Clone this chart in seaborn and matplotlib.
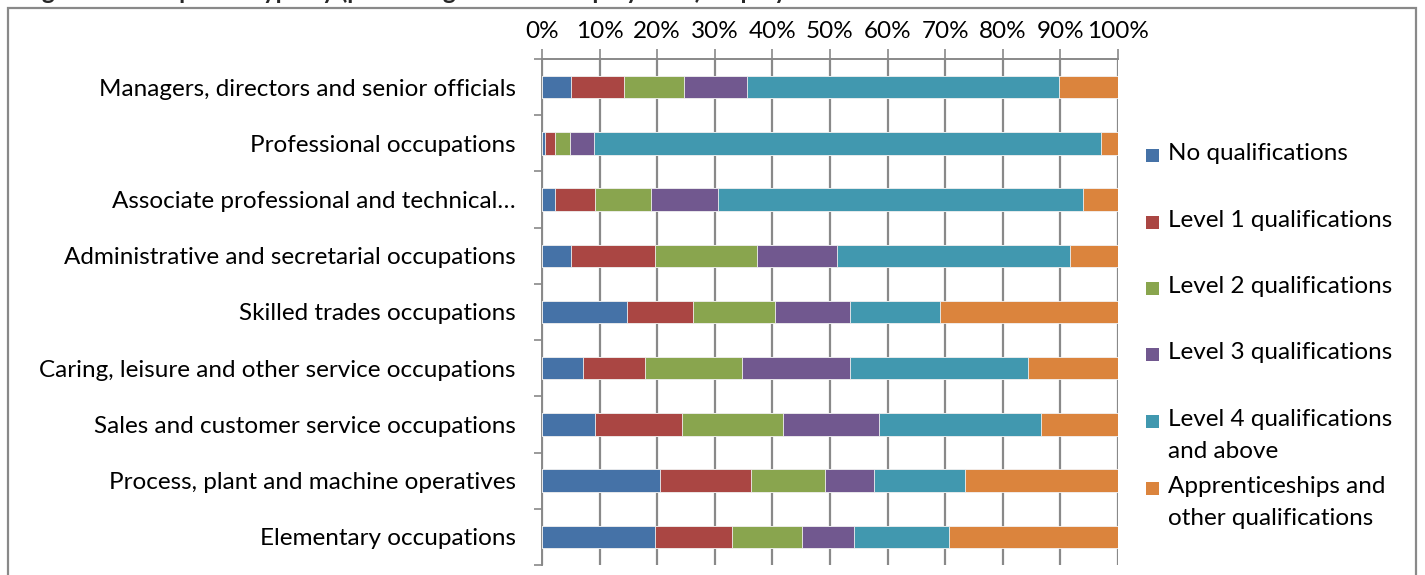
import matplotlib
matplotlib.use("Agg")
import matplotlib.pyplot as plt
import seaborn as sns
import pandas as pd
import numpy as np
from matplotlib.patches import Rectangle

# Occupation groups, top to bottom
occupations = [
    "Managers, directors and senior officials",
    "Professional occupations",
    "Associate professional and technical\u2026",
    "Administrative and secretarial occupations",
    "Skilled trades occupations",
    "Caring, leisure and other service occupations",
    "Sales and customer service occupations",
    "Process, plant and machine operatives",
    "Elementary occupations",
]

# Share of each occupation group (%) by highest qualification
no_qual = [5.1, 0.5, 2.3, 5.1, 14.8, 7.2, 9.2, 20.5, 19.6]
level1 = [9.1, 1.7, 6.9, 14.5, 11.4, 10.7, 15.1, 15.7, 13.3]
level2 = [10.5, 2.7, 9.8, 17.8, 14.2, 16.9, 17.6, 12.9, 12.2]
level3 = [10.9, 4.1, 11.5, 13.9, 13.1, 18.7, 16.6, 8.5, 9.1]
level4 = [54.1, 88.1, 63.5, 40.3, 15.6, 30.9, 28.1, 15.9, 16.5]
apprentice = [10.3, 2.9, 6.0, 8.4, 30.9, 15.6, 13.4, 26.5, 29.3]

series_names = [
    "No qualifications",
    "Level 1 qualifications",
    "Level 2 qualifications",
    "Level 3 qualifications",
    "Level 4 qualifications\nand above",
    "Apprenticeships and\nother qualifications",
]
series_values = [no_qual, level1, level2, level3, level4, apprentice]
colors = ["#4572A7", "#AA4643", "#89A54E", "#71588F", "#4198AF", "#DB843D"]

x_ticks = list(range(0, 101, 10))
x_labels = [f"{v}%" for v in x_ticks]

sns.set_style("white")
plt.rcParams["font.family"] = ["Lato", "DejaVu Sans"]

FS = 17.5
W, H = 1425, 575
fig = plt.figure(figsize=(W / 100, H / 100), dpi=100)
fig.patch.set_facecolor("white")

left_px, right_px, top_px, bottom_px = 542, 1118, 59, 565
ax = fig.add_axes([left_px / W, 1 - bottom_px / H,
                   (right_px - left_px) / W, (bottom_px - top_px) / H])

df = pd.DataFrame({"occupation": occupations})
values = np.array(series_values, dtype=float)
values = values / values.sum(axis=0) * 100
cum = np.cumsum(values, axis=0)
for i, name in enumerate(series_names):
    df[name] = cum[i]

# 100% stacked bars: draw cumulative totals from the outermost segment inwards
for i in reversed(range(len(series_names))):
    sns.barplot(data=df, x=series_names[i], y="occupation", order=occupations,
                orient="h", color=colors[i], saturation=1, width=0.4,
                edgecolor="#f2f2f2", linewidth=0.6, ax=ax, zorder=3)

grid_color = "#898989"
ax.set_xlim(0, 100)
ax.set_ylim(len(occupations) - 0.5, -0.5)
ax.set_xlabel("")
ax.set_ylabel("")

ax.set_axisbelow(True)
ax.grid(axis="x", color=grid_color, linewidth=1.6, zorder=0)
ax.grid(axis="y", visible=False)

ax.xaxis.tick_top()
ax.set_xticks(x_ticks)
ax.set_xticklabels(x_labels, fontsize=FS, color="black")
ax.tick_params(axis="x", which="major", length=7, width=1.2, color=grid_color,
               pad=5, direction="out")

ax.set_yticks(range(len(occupations)))
ax.set_yticklabels(occupations, fontsize=FS, color="black")
ax.set_yticks(np.arange(-0.5, len(occupations), 1), minor=True)
ax.tick_params(axis="y", which="major", length=0, pad=19)
ax.tick_params(axis="y", which="minor", length=6, width=1.2, color=grid_color,
               direction="out", left=True)

for side in ["right", "bottom"]:
    ax.spines[side].set_visible(False)
for side in ["top", "left"]:
    ax.spines[side].set_visible(True)
    ax.spines[side].set_color(grid_color)
    ax.spines[side].set_linewidth(1.4)

# Chart border
fig.add_artist(Rectangle((8 / W, -0.05), (1416 - 8) / W, (H - 8) / H + 0.05,
                         transform=fig.transFigure, fill=False,
                         edgecolor=grid_color, linewidth=1.6))

# Title sitting above the chart border
fig.text(22 / W, 1 + 1 / H,
         "Figure 8: Occupation type by (percentage of all in employment) employees",
         fontsize=FS, fontweight="bold", va="baseline", ha="left")

# Legend
legend_rows = [155, 222, 288, 354, 421, 488]
sq = 13
for name, c, y in zip(series_names, colors, legend_rows):
    fig.add_artist(Rectangle((1146 / W, 1 - (y + sq / 2) / H), sq / W, sq / H,
                             transform=fig.transFigure, facecolor=c,
                             edgecolor="none"))
    fig.text(1168 / W, 1 - (y - 12) / H, name, fontsize=FS, va="top",
             ha="left", linespacing=1.62, color="black")

fig.savefig("out.png", dpi=100, facecolor="white")
